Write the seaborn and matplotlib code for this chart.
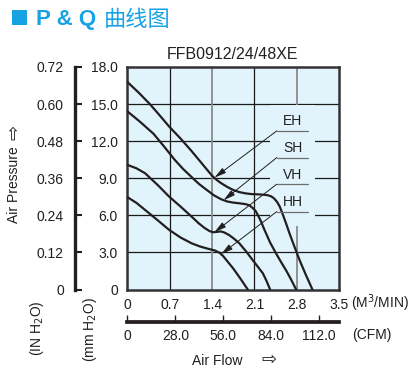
import pandas as pd
import matplotlib
matplotlib.use('Agg')
import matplotlib.pyplot as plt
import seaborn as sns
from matplotlib.patches import Rectangle

# P-Q curves: air flow (m3/min) vs static pressure (mmH2O)
eh_flow = [0, 0.18, 0.37, 0.53, 0.69, 0.88, 1.06, 1.23, 1.40, 1.48, 1.55, 1.65, 1.75, 1.85, 1.95,
           2.05, 2.15, 2.25, 2.32, 2.38, 2.43, 2.48, 2.52, 2.56, 2.62, 2.68, 2.76, 2.85, 2.95, 3.06]
eh_pres = [16.78, 15.95, 15.0, 14.1, 13.18, 12.2, 11.2, 10.2, 9.2, 8.85, 8.6, 8.3, 8.05, 7.88, 7.78,
           7.72, 7.70, 7.67, 7.63, 7.53, 7.35, 7.05, 6.7, 6.2, 5.4, 4.55, 3.5, 2.35, 1.2, 0]
sh_flow = [0, 0.2, 0.43, 0.6, 0.78, 0.92, 1.06, 1.18, 1.31, 1.43, 1.55, 1.65, 1.75, 1.86, 1.96,
           2.02, 2.07, 2.12, 2.16, 2.21, 2.26, 2.36, 2.46, 2.55, 2.63, 2.71, 2.79]
sh_pres = [14.4, 13.6, 12.6, 11.6, 10.5, 9.75, 9.1, 8.55, 8.06, 7.62, 7.3, 7.12, 7.03, 6.97, 6.9,
           6.8, 6.6, 6.35, 6.0, 5.5, 4.9, 3.8, 2.9, 2.15, 1.5, 0.78, 0]
vh_flow = [0, 0.15, 0.29, 0.5, 0.69, 0.88, 1.06, 1.18, 1.28, 1.36, 1.42, 1.48, 1.54, 1.60, 1.68,
           1.76, 1.85, 1.96, 2.07, 2.16, 2.24, 2.30, 2.36]
vh_pres = [10.08, 9.8, 9.41, 8.45, 7.51, 6.7, 5.9, 5.35, 4.96, 4.72, 4.63, 4.66, 4.70, 4.62, 4.41,
           4.12, 3.74, 3.1, 2.39, 1.82, 1.31, 0.7, 0]
hh_flow = [0, 0.15, 0.29, 0.5, 0.69, 0.88, 1.06, 1.2, 1.33, 1.45, 1.52, 1.58, 1.65, 1.75, 1.87, 1.99]
hh_pres = [7.47, 7.0, 6.44, 5.6, 4.82, 4.2, 3.74, 3.48, 3.3, 3.15, 2.98, 2.72, 2.3, 1.7, 0.87, 0]

curve_names = ['EH', 'SH', 'VH', 'HH']
label_line_y = [12.83, 10.67, 8.52, 6.3]
arrow_tips = [(1.44, 9.05), (1.59, 7.22), (1.44, 4.64), (1.55, 2.86)]

x_ticks = [0, 0.7, 1.4, 2.1, 2.8, 3.5]
x_labels = ['0', '0.7', '1.4', '2.1', '2.8', '3.5']
y_ticks = [0, 3, 6, 9, 12, 15, 18]
y_labels = ['0', '3.0', '6.0', '9.0', '12.0', '15.0', '18.0']
in_ticks = [0, 0.12, 0.24, 0.36, 0.48, 0.60, 0.72]
in_labels = ['0', '0.12', '0.24', '0.36', '0.48', '0.60', '0.72']
cfm_ticks = [0, 28, 56, 84, 112]
cfm_labels = ['0', '28.0', '56.0', '84.0', '112.0']

df = pd.concat([
    pd.DataFrame({'flow': f, 'pressure': p, 'curve': n})
    for f, p, n in zip([eh_flow, sh_flow, vh_flow, hh_flow],
                       [eh_pres, sh_pres, vh_pres, hh_pres], curve_names)
])

sns.set_style('white')
plt.rcParams['font.family'] = ['Liberation Sans', 'DejaVu Sans']

W, H = 414, 377
dark = '#231f20'
bg = '#e1f3fb'
blue = '#17a2e4'


def px(x, y):
    return x / W, 1 - y / H


fig = plt.figure(figsize=(W / 100, H / 100), dpi=100)
ax = fig.add_axes([127.5 / W, 1 - 289.5 / H, 211.5 / W, 222.5 / H])
ax.set_facecolor(bg)
ax.set_xlim(0, 3.5)
ax.set_ylim(0, 18)

# grid
for yv in y_ticks[1:-1]:
    ax.axhline(yv, color='#1a1a1a', lw=0.9, zorder=1)
for xv in x_ticks[1:-1]:
    gray = xv in (1.4, 2.8)
    ax.axvline(xv, color='#8a8a8a' if gray else '#1a1a1a', lw=1.3 if gray else 0.9, zorder=1)
# clear area behind the curve labels
ax.add_patch(Rectangle((2.36, 5.1), 0.74, 9.85, facecolor=bg, edgecolor='none', zorder=1.5))

sns.lineplot(data=df, x='flow', y='pressure', units='curve', estimator=None,
             sort=False, color=dark, lw=1.6, ax=ax, zorder=3)

for name, ly, tip in zip(curve_names, label_line_y, arrow_tips):
    ax.plot([2.47, 2.99], [ly, ly], color='#6d6d6d', lw=0.9, zorder=4)
    ax.text(2.73, ly + 0.45, name, ha='center', va='baseline', fontsize=10, color=dark, zorder=4)
    ax.annotate('', xy=tip, xytext=(2.47, ly),
                arrowprops=dict(arrowstyle='-|>,head_length=0.7,head_width=0.18',
                                color=dark, lw=0.7, shrinkA=0, shrinkB=0), zorder=4)

for s in ax.spines.values():
    s.set_linewidth(1.8)
    s.set_color('#333333')

ax.set_xticks(x_ticks)
ax.set_xticklabels(x_labels)
ax.set_yticks(y_ticks)
ax.set_yticklabels(y_labels)
ax.tick_params(axis='x', length=0, pad=6, labelsize=10, labelcolor=dark)
ax.tick_params(axis='y', length=0, pad=7, labelsize=10, labelcolor=dark)
ax.set_xlabel('')
ax.set_ylabel('')

# inch H2O scale bar
sec_y = ax.secondary_yaxis(-0.248, functions=(lambda v: v * 0.04, lambda v: v / 0.04))
sec_y.set_yticks(in_ticks)
sec_y.set_yticklabels(in_labels)
sec_y.spines['left'].set_linewidth(2.4)
sec_y.spines['left'].set_color(dark)
sec_y.tick_params(axis='y', direction='in', length=5, width=1.5, pad=8, labelsize=10,
                  color=dark, labelcolor=dark)

# CFM scale bar
sec_x = ax.secondary_xaxis(-0.1447, functions=(lambda v: v * 35.3147, lambda v: v / 35.3147))
sec_x.set_xticks(cfm_ticks)
sec_x.set_xticklabels(cfm_labels)
sec_x.spines['bottom'].set_linewidth(2.7)
sec_x.spines['bottom'].set_color(dark)
sec_x.tick_params(axis='x', direction='in', length=5, width=1, pad=5, labelsize=10,
                  color=dark, labelcolor=dark)

# texts
fig.text(*px(233, 54.5), 'FFB0912/24/48XE', ha='center', va='center', fontsize=11.5, color=dark)
fig.text(*px(380, 303), '(M$^3$/MIN)', ha='center', va='center', fontsize=10, color=dark)
fig.text(*px(372, 335), '(CFM)', ha='center', va='center', fontsize=10, color=dark)
fig.text(*px(192, 361), 'Air Flow', ha='left', va='center', fontsize=10, color=dark)
fig.text(*px(261, 360), '⇨', ha='left', va='center', fontsize=13, color=dark,
         family=['DejaVu Sans'])
fig.text(*px(14, 185), 'Air Pressure', ha='center', va='center', fontsize=10, color=dark,
         rotation=90)
fig.text(*px(14, 132), '⇨', ha='center', va='center', fontsize=13, color=dark,
         rotation=90, family=['DejaVu Sans'])
fig.text(*px(37, 328), '(IN H$_2$O)', ha='center', va='center', fontsize=10, color=dark, rotation=90)
fig.text(*px(90, 330), '(mm H$_2$O)', ha='center', va='center', fontsize=10, color=dark, rotation=90)

# header
fig.patches.append(Rectangle(px(12, 25), 15 / W, 15 / H, transform=fig.transFigure,
                             facecolor=blue, edgecolor='none'))
fig.text(*px(36, 19), 'P & Q', ha='left', va='center', fontsize=16, fontweight='bold', color=blue)
fig.text(*px(104, 19), '曲线图', ha='left', va='center', fontsize=16, color=blue,
         family=['Noto Sans CJK SC'])

fig.savefig('out.png', dpi=100)
